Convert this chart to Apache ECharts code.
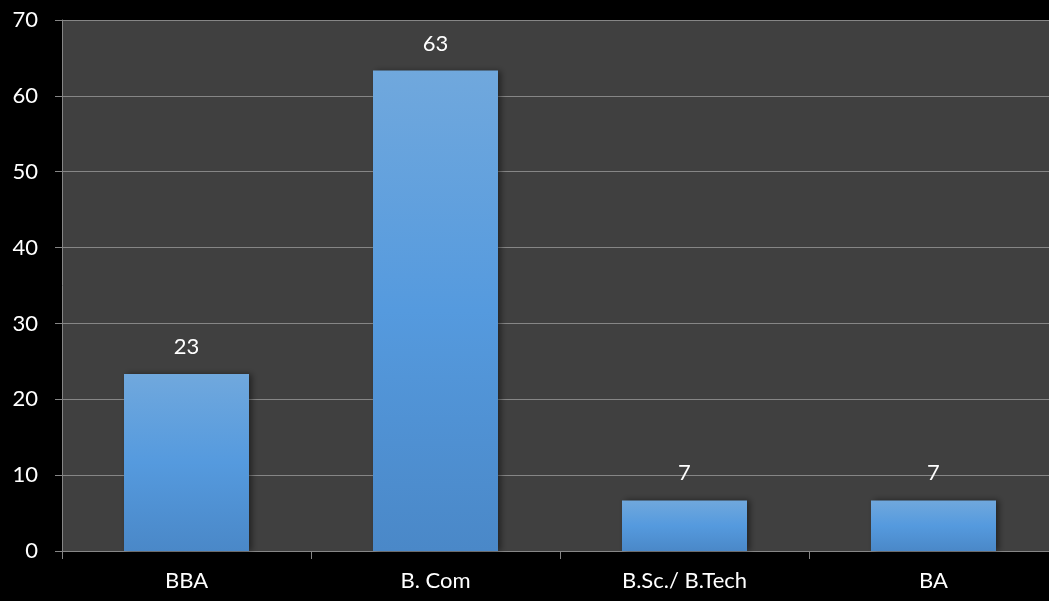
<!DOCTYPE html>
<html>
<head>
<meta charset="utf-8">
<script src="https://cdn.jsdelivr.net/npm/echarts@6/dist/echarts.min.js"></script>
<style>
  html, body { margin: 0; padding: 0; background: #000; overflow: hidden; }
  /* plot area runs past the right edge of the window */
  #chart { width: 1058px; height: 601px; }
</style>
</head>
<body>
<div id="chart"></div>
<script>
// Degree programmes and their share (%)
const categories = ['BBA', 'B. Com', 'B.Sc./ B.Tech', 'BA'];
const shares = [23.33, 63.33, 6.67, 6.67];
const yTicks = { min: 0, max: 70, interval: 10 };

const FONT = 'Lato, "Open Sans", sans-serif';
const chart = echarts.init(document.getElementById('chart'));

chart.setOption({
  backgroundColor: '#000000',
  animation: false,
  grid: {
    left: 62, right: 0, top: 20, bottom: 50,
    show: true, backgroundColor: '#404040', borderWidth: 0
  },
  xAxis: {
    type: 'category',
    data: categories,
    axisLine: { lineStyle: { color: '#868686', width: 1 } },
    axisTick: { show: true, length: 8, lineStyle: { color: '#868686' } },
    axisLabel: { color: '#ffffff', fontSize: 22, fontFamily: FONT, margin: 19 }
  },
  yAxis: {
    type: 'value',
    min: yTicks.min, max: yTicks.max, interval: yTicks.interval,
    axisLine: { show: true, lineStyle: { color: '#868686', width: 1 } },
    axisTick: { show: true, length: 7, lineStyle: { color: '#868686' } },
    axisLabel: { color: '#ffffff', fontSize: 22, fontFamily: FONT, margin: 24 },
    splitLine: { lineStyle: { color: '#868686', width: 1 } }
  },
  series: [{
    type: 'bar',
    data: shares,
    barWidth: 125,
    itemStyle: {
      color: new echarts.graphic.LinearGradient(0, 0, 0, 1, [
        { offset: 0, color: '#70a8dd' },
        { offset: 0.5, color: '#559ade' },
        { offset: 1, color: '#4a88c8' }
      ]),
      shadowColor: 'rgba(0,0,0,0.45)',
      shadowBlur: 6,
      shadowOffsetX: 3,
      shadowOffsetY: 0
    },
    label: {
      show: true,
      position: 'top',
      distance: 16,
      color: '#ffffff',
      fontSize: 22,
      fontFamily: FONT,
      formatter: p => Math.round(p.value).toString()
    }
  }]
});
</script>
</body>
</html>
